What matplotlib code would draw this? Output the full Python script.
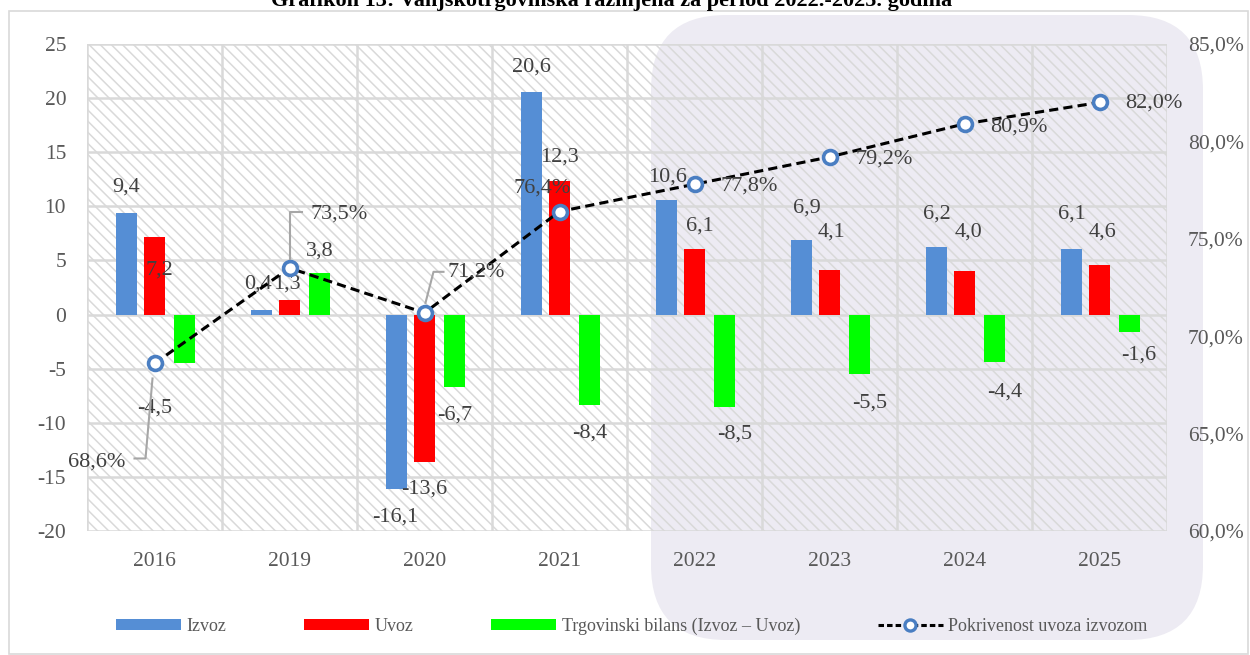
import numpy as np
import matplotlib.pyplot as plt
from matplotlib.patches import FancyBboxPatch, Rectangle, Patch
from matplotlib.lines import Line2D
from matplotlib.transforms import IdentityTransform

plt.rcParams['font.family'] = ['Liberation Serif', 'DejaVu Serif']
plt.rcParams['hatch.color'] = '#D9D9D9'
plt.rcParams['hatch.linewidth'] = 1.1

# data
years = ['2016', '2019', '2020', '2021', '2022', '2023', '2024', '2025']
izvoz = [9.4, 0.4, -16.1, 20.6, 10.6, 6.9, 6.2, 6.1]
uvoz = [7.2, 1.3, -13.6, 12.3, 6.1, 4.1, 4.0, 4.6]
bilans = [-4.5, 3.8, -6.7, -8.4, -8.5, -5.5, -4.4, -1.6]
pokrivenost = [68.6, 73.5, 71.2, 76.4, 77.8, 79.2, 80.9, 82.0]

title = 'Grafikon 13: Vanjskotrgovinska razmjena za period 2022.-2025. godina'
names = ['Izvoz', 'Uvoz', 'Trgovinski bilans (Izvoz – Uvoz)', 'Pokrivenost uvoza izvozom']

# label offsets in pixels (dx, dy), picked by eye
izvoz_off = [(0, 26), (-3, 26), (-1, -28), (0, 25), (1, 23), (6, 32), (1, 33), (1, 34)]
uvoz_off = [(5, -33), (-3, 16), (0, -27), (0, 24), (5, 22), (2, 38), (4, 39), (3, 33)]
bilans_off = [(-30, -45), (0, 22), (0, -28), (0, -28), (10, -28), (10, -29), (10, -30), (9, -23)]
pok_off = [(-29, -99, 'right'), (21, 54, 'left'), (23, 41, 'left'), (-17, 23, 'center'),
           (26, -2, 'left'), (26, -2, 'left'), (26, -3, 'left'), (26, -1, 'left')]
leaders = {0: [(-20, -95), (-9, -95), (-2, -15)],
           1: [(0, 9), (0, 56), (12, 56)],
           2: [(1, 10), (9, 41), (19, 41)]}

c_izvoz = '#558ED5'
c_uvoz = '#FF0000'
c_bilans = '#00FF00'
c_marker = '#4A7EC2'
txt = '#404040'
grid_c = '#D9D9D9'

W, H = 1250, 655
fig = plt.figure(figsize=(W / 100, H / 100), dpi=100)
fig.patch.set_facecolor('white')

# border and lavender background shape (pixels)
fig.add_artist(Rectangle((9, 1), 1239, 643, transform=IdentityTransform(),
                         facecolor='none', edgecolor=grid_c, lw=1.2, zorder=-3))
fig.add_artist(FancyBboxPatch((651, H - 640), 552, 625,
                              boxstyle='round,pad=0,rounding_size=75',
                              transform=IdentityTransform(),
                              facecolor='#EDEBF3', edgecolor='none', zorder=-2))

ax = fig.add_axes([87 / W, 1 - 531 / H, (1167 - 87) / W, (531 - 44) / H])
ax.set_facecolor('none')
ax.add_patch(Rectangle((0, 0), 1, 1, transform=ax.transAxes, facecolor='none',
                       edgecolor='#D9D9D9', lw=0, hatch='\\\\\\', zorder=0.5))

x = np.arange(len(years))
w = 0.155
ax.bar(x - 0.21, izvoz, w, color=c_izvoz, zorder=2)
ax.bar(x, uvoz, w, color=c_uvoz, zorder=2)
ax.bar(x + 0.225, bilans, w, color=c_bilans, zorder=2)

ax.set_xlim(-0.5, 7.5)
ax.set_ylim(-20, 25)
yt = np.arange(-20, 26, 5)
ax.set_yticks(yt)
ax.set_yticklabels([str(v) for v in yt])
ax.set_xticks(x)
ax.set_xticklabels(years)
ax.set_xticks(np.arange(-0.5, 8, 1), minor=True)
ax.grid(axis='y', color=grid_c, lw=1.8, zorder=1)
ax.grid(axis='x', which='minor', color=grid_c, lw=1.8, zorder=1)
ax.set_axisbelow(True)
for s in ax.spines.values():
    s.set_visible(False)
ax.tick_params(axis='both', which='both', length=0, labelsize=15.5, labelcolor='#595959')
ax.tick_params(axis='y', pad=15)
ax.tick_params(axis='x', pad=15)


def fmt(v):
    return f'{v:.1f}'.replace('.', ',')


for vals, off, dx0 in [(izvoz, izvoz_off, -0.21), (uvoz, uvoz_off, 0.0), (bilans, bilans_off, 0.225)]:
    for i, v in enumerate(vals):
        ax.annotate(fmt(v), (x[i] + dx0, v), xytext=off[i], textcoords='offset pixels',
                    ha='center', va='center', fontsize=16, color=txt, zorder=3)

ax2 = ax.twinx()
ax2.set_ylim(60, 85)
rt = np.arange(60, 86, 5)
ax2.set_yticks(rt)
ax2.set_yticklabels([fmt(v) + '%' for v in rt])
for s in ax2.spines.values():
    s.set_visible(False)
ax2.tick_params(axis='y', length=0, labelsize=15.5, labelcolor='#595959', pad=15)

ax2.plot(x, pokrivenost, color='black', lw=2.2, dashes=(3, 1.7),
         marker='o', ms=10, mfc='white', mec=c_marker, mew=2.6, zorder=4)

for i, v in enumerate(pokrivenost):
    dx, dy, ha = pok_off[i]
    ax2.annotate(fmt(v) + '%', (x[i], v), xytext=(dx, dy), textcoords='offset pixels',
                 ha=ha, va='center', fontsize=16, color=txt, zorder=5)

for i, pts in leaders.items():
    px, py = ax2.transData.transform((x[i], pokrivenost[i]))
    fig.add_artist(Line2D([px + p[0] for p in pts], [py + p[1] for p in pts],
                          transform=IdentityTransform(), color='#A6A6A6', lw=1.5, zorder=3))

handles = [Patch(facecolor=c_izvoz), Patch(facecolor=c_uvoz), Patch(facecolor=c_bilans),
           Line2D([], [], color='black', lw=2.2, dashes=(1.8, 1.0), marker='o', ms=8,
                  mfc='white', mec=c_marker, mew=2.4)]
fig.legend(handles, names, loc='center', bbox_to_anchor=(632 / W, 1 - 626 / H), ncol=4,
           frameon=False, fontsize=13, labelcolor='#595959', handlelength=3.6,
           handleheight=0.55, handletextpad=0.3, columnspacing=4.3)

fig.text(612 / W, 1 - 6 / H, title, ha='center', va='baseline', fontsize=16,
         fontweight='bold', color='black')

fig.savefig('out.png', dpi=100)
